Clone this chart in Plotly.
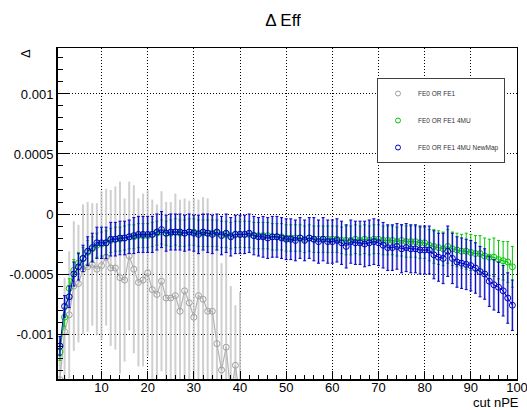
import plotly.graph_objects as go

# ---------------- data (values in units of 1e-4) ----------------
x_all = list(range(1, 100))
x_gray = list(range(1, 41))

gray_e4 = [-13.8, -9.8, -8.4, -6.0, -5.8, -4.6, -4.4, -4.2, -4.6, -4.3,
           -3.6, -4.5, -4.5, -5.3, -5.5, -3.5, -4.6, -5.7, -5.5, -4.9,
           -6.3, -6.7, -5.6, -7.0, -7.0, -6.8, -8.1, -6.4, -7.4, -8.6,
           -6.8, -7.1, -8.1, -8.1, -10.8, -13.0, -11.1, -15.0, -12.6, -15.5]
gray_err_e4 = [3.5, 4.5, 5.3, 5.4, 4.9, 5.4, 5.4, 5.1, 5.5, 6.2,
               5.7, 6.5, 6.8, 8.0, 6.8, 6.2, 7.0, 7.0, 7.2, 6.9,
               7.5, 7.5, 7.5, 8.0, 8.0, 8.5, 9.3, 7.7, 8.5, 9.9,
               8.0, 8.5, 9.4, 8.2, 8.5, 8.9, 8.5, 9.0, 5.0, 9.0]

green_e4 = [-11.5, -8.6, -6.2, -4.7, -4.1, -3.7, -3.2, -2.9, -2.6, -2.5,
            -2.4, -2.2, -2.1, -2.1, -2.0, -1.9, -1.9, -1.8, -1.8, -1.8,
            -1.7, -1.6, -1.5, -1.6, -1.6, -1.5, -1.6, -1.6, -1.5, -1.5,
            -1.6, -1.6, -1.6, -1.6, -1.6, -1.7, -1.7, -1.8, -1.7, -1.7,
            -1.7, -1.7, -1.8, -1.8, -1.8, -1.8, -1.9, -1.9, -1.9, -2.0,
            -2.0, -2.0, -2.0, -2.1, -2.0, -2.1, -2.1, -2.1, -2.1, -2.1,
            -2.1, -2.2, -2.2, -2.2, -2.1, -2.2, -2.1, -2.2, -2.1, -2.1,
            -2.2, -2.2, -2.2, -2.3, -2.2, -2.3, -2.3, -2.3, -2.4, -2.4,
            -2.6, -2.7, -2.8, -2.9, -2.7, -2.9, -3.0, -3.1, -3.1, -3.2,
            -3.3, -3.3, -3.5, -3.6, -3.6, -3.8, -3.9, -4.0, -4.4]
green_err_e4 = [0.7, 0.8, 0.8, 0.9, 0.9, 0.9, 1.0, 1.0, 1.0, 1.0,
                1.0, 1.0, 1.0, 1.0, 1.0, 1.0, 1.0, 1.0, 1.0, 1.0,
                1.0, 1.0, 1.0, 1.0, 1.1, 1.1, 1.1, 1.1, 1.1, 1.1,
                1.1, 1.1, 1.1, 1.1, 1.1, 1.1, 1.1, 1.1, 1.1, 1.1,
                1.1, 1.1, 1.1, 1.1, 1.1, 1.1, 1.1, 1.1, 1.1, 1.1,
                1.1, 1.1, 1.1, 1.1, 1.1, 1.1, 1.1, 1.1, 1.1, 1.1,
                1.1, 1.1, 1.2, 1.2, 1.2, 1.2, 1.2, 1.2, 1.2, 1.2,
                1.2, 1.2, 1.2, 1.2, 1.3, 1.3, 1.3, 1.3, 1.3, 1.3,
                1.3, 1.4, 1.4, 1.4, 1.4, 1.4, 1.4, 1.4, 1.5, 1.5,
                1.5, 1.5, 1.5, 1.5, 1.6, 1.6, 1.6, 1.7, 1.7]

blue_e4 = [-11.0, -7.7, -6.9, -5.0, -4.4, -3.7, -3.1, -2.8, -2.4, -2.4,
           -2.4, -2.1, -2.1, -2.0, -2.0, -1.9, -1.8, -1.7, -1.7, -1.7,
           -1.7, -1.5, -1.3, -1.6, -1.5, -1.5, -1.5, -1.6, -1.5, -1.6,
           -1.7, -1.5, -1.6, -1.7, -1.5, -1.8, -1.6, -1.9, -1.7, -1.7,
           -1.7, -1.6, -1.8, -1.9, -1.9, -2.0, -1.9, -1.9, -2.0, -2.1,
           -2.1, -2.2, -2.0, -2.2, -2.0, -2.1, -2.3, -2.1, -2.3, -2.3,
           -2.2, -2.4, -2.7, -2.3, -2.4, -2.4, -2.5, -2.4, -2.3, -2.4,
           -2.6, -2.8, -2.8, -2.7, -2.9, -2.8, -2.9, -2.9, -3.0, -3.0,
           -3.0, -3.4, -3.6, -3.7, -3.1, -3.7, -4.0, -4.1, -4.2, -4.3,
           -4.5, -4.8, -5.0, -5.6, -5.9, -6.1, -6.4, -7.0, -7.6]
blue_err_e4 = [0.8, 0.9, 0.9, 1.0, 1.1, 1.1, 1.2, 1.2, 1.3, 1.3,
               1.3, 1.4, 1.4, 1.4, 1.4, 1.4, 1.5, 1.5, 1.5, 1.5,
               1.5, 1.5, 1.5, 1.5, 1.5, 1.5, 1.5, 1.5, 1.5, 1.5,
               1.6, 1.5, 1.6, 1.6, 1.5, 1.6, 1.6, 1.6, 1.6, 1.6,
               1.6, 1.6, 1.6, 1.6, 1.7, 1.7, 1.7, 1.7, 1.7, 1.7,
               1.7, 1.7, 1.7, 1.7, 1.7, 1.8, 1.8, 1.8, 1.8, 1.8,
               1.8, 1.8, 1.8, 1.8, 1.8, 1.8, 1.9, 1.9, 1.9, 1.9,
               1.9, 1.9, 1.9, 1.9, 2.0, 2.0, 2.0, 2.0, 2.0, 2.0,
               2.0, 2.0, 2.0, 2.1, 2.1, 2.1, 2.1, 2.1, 2.1, 2.1,
               2.1, 2.1, 2.1, 2.1, 2.1, 2.1, 2.1, 2.1, 2.1]

names = ["FE0 OR FE1", "FE0 OR FE1 4MU", "FE0 OR FE1 4MU NewMap"]
y_tickvals = [-0.001, -0.0005, 0, 0.0005, 0.001]
y_ticktext = ["-0.001", "-0.0005", "0", "0.0005", "0.001"]
x_tickvals = [10, 20, 30, 40, 50, 60, 70, 80, 90, 100]

S = 1e-4
gray = [v * S for v in gray_e4]
gray_err = [v * S for v in gray_err_e4]
green = [v * S for v in green_e4]
green_err = [v * S for v in green_err_e4]
blue = [v * S for v in blue_e4]
blue_err = [v * S for v in blue_err_e4]

GRAY = "#a0a0a0"
GREEN = "#00c800"
BLUE = "#0000c8"
FONT = "Liberation Sans, Arial, sans-serif"

fig = go.Figure()

# gray series
fig.add_trace(go.Scatter(
    x=x_gray, y=gray, mode="lines+markers", showlegend=False,
    line=dict(color="#b4b4b4", width=1.2),
    marker=dict(symbol="circle-open", size=6, color=GRAY, line=dict(width=1)),
    error_y=dict(type="data", array=gray_err, color="rgba(195,195,195,0.8)",
                 thickness=2, width=0)))

# green series
fig.add_trace(go.Scatter(
    x=x_all, y=green, mode="lines+markers", showlegend=False,
    line=dict(color=GREEN, width=1),
    marker=dict(symbol="circle-open", size=6, color=GREEN, line=dict(width=1)),
    error_y=dict(type="data", array=green_err, color=GREEN, thickness=1, width=1.5)))

# blue translucent band bars
fig.add_trace(go.Scatter(
    x=x_all, y=blue, mode="markers", showlegend=False, hoverinfo="skip",
    marker=dict(size=1, color="rgba(0,0,0,0)"),
    error_y=dict(type="data", array=blue_err, color="rgba(70,70,220,0.35)",
                 thickness=2.5, width=0)))

# blue series
fig.add_trace(go.Scatter(
    x=x_all, y=blue, mode="lines+markers", showlegend=False,
    line=dict(color=BLUE, width=1),
    marker=dict(symbol="circle-open", size=6, color=BLUE, line=dict(width=1)),
    error_y=dict(type="data", array=blue_err, color=BLUE, thickness=1, width=1.5)))

# legend entries (marker only)
for i, (nm, col) in enumerate(zip(names, [GRAY, GREEN, BLUE])):
    fig.add_trace(go.Scatter(
        x=[None], y=[None], mode="markers", name=nm, legendgroup=f"g{i}",
        marker=dict(symbol="circle-open", size=5, color=col, line=dict(width=1))))

W, H = 527, 410
L, R, T, B = 57, 10, 48, 30

fig.update_layout(
    width=W, height=H, autosize=False,
    margin=dict(l=L, r=R, t=T, b=B, autoexpand=False),
    paper_bgcolor="white", plot_bgcolor="white",
    font=dict(family=FONT, size=13, color="black"),
    title=dict(text="\u0394 Eff", x=283 / W, xref="container", xanchor="center",
               y=1 - 20 / H, yref="container", yanchor="middle",
               font=dict(size=17, family=FONT, color="black")),
    showlegend=True,
    legend=dict(x=(377 - L) / (W - L - R), y=(H - B - 78) / (H - T - B),
                xanchor="left", yanchor="top",
                bgcolor="white", bordercolor="#404040", borderwidth=1,
                font=dict(size=6.5, family=FONT, color="#333333"),
                tracegroupgap=8, itemwidth=30),
    xaxis=dict(range=[0.36, 100.001], tickvals=x_tickvals, automargin=False,
               ticklabeloverflow="allow",
               ticks="inside", ticklen=9, tickwidth=1, tickcolor="black",
               minor=dict(ticks="inside", ticklen=5, dtick=2, tick0=0,
                          tickcolor="black", showgrid=False),
               showgrid=True, gridcolor="black", griddash="1px,2px", gridwidth=1,
               zeroline=False, showline=True, linecolor="black", linewidth=1,
               mirror=True, tickfont=dict(size=13), ticklabelstandoff=-5),
    yaxis=dict(range=[-0.001383, 0.001383], tickvals=y_tickvals, ticktext=y_ticktext,
               automargin=False, ticklabeloverflow="allow",
               ticks="inside", ticklen=12, tickwidth=1, tickcolor="black",
               minor=dict(ticks="inside", ticklen=6, dtick=0.0001, tick0=0,
                          tickcolor="black", showgrid=False),
               showgrid=True, gridcolor="black", griddash="1px,2px", gridwidth=1,
               zeroline=False, showline=True, linecolor="black", linewidth=1,
               mirror=True, tickfont=dict(size=13)),
)

# thicker left and bottom axis lines (ROOT style)
fig.add_shape(type="line", xref="paper", yref="paper", x0=0, x1=0, y0=0, y1=1,
              line=dict(color="black", width=2))
fig.add_shape(type="line", xref="paper", yref="paper", x0=0, x1=1, y0=0, y1=0,
              line=dict(color="black", width=2))

# axis titles
fig.add_annotation(text="\u0394", xref="paper", yref="paper",
                   x=(25 - L) / (W - L - R), y=(H - B - 54) / (H - T - B),
                   xanchor="center", yanchor="middle", textangle=-90,
                   showarrow=False, font=dict(size=13, family=FONT, color="black"))
fig.add_annotation(text="cut nPE", xref="paper", yref="paper",
                   x=(521 - L) / (W - L - R), y=(H - B - 402) / (H - T - B),
                   xanchor="right", yanchor="middle",
                   showarrow=False, font=dict(size=13, family=FONT, color="black"))

fig.write_html("out.html",
               config={"responsive": False, "displayModeBar": False},
               post_script="document.body.style.margin='0';"
                           "document.body.style.overflow='hidden';")
